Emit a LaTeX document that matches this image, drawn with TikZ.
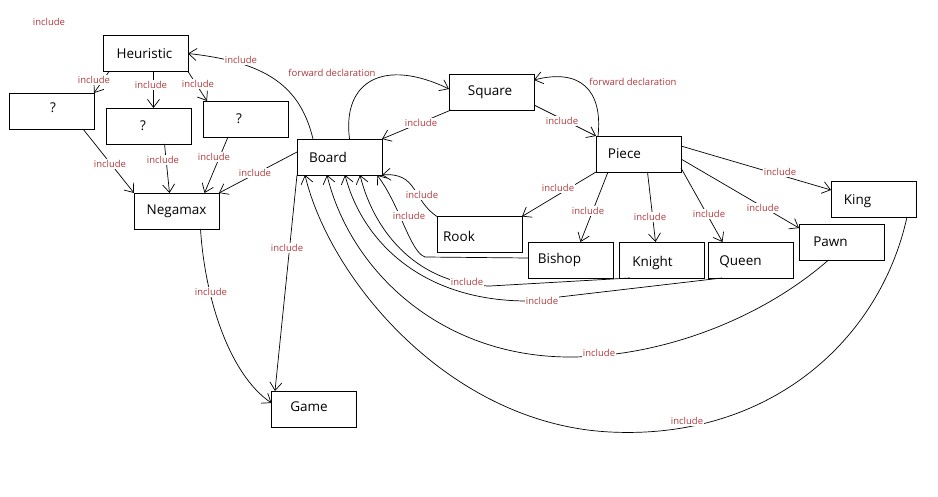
\documentclass[tikz,border=0pt]{standalone}
\usepackage{fontspec}
\setmainfont{Open Sans}
\usetikzlibrary{arrows.meta}

\definecolor{IncludeRed}{HTML}{B23A3E}
\tikzstyle{class-box}=[draw, line width=0.7pt, minimum width=85pt, minimum height=36pt, inner sep=0pt, outer sep=0pt]
\tikzstyle{class-name}=[font=\fontsize{13.5}{15}\selectfont]
\tikzstyle{include-arrow}=[line width=0.7pt, -{Straight Barb[length=8pt,width=12pt]}]
\tikzstyle{include-label}=[fill=white, inner sep=1pt, text=IncludeRed, font=\fontsize{9.5}{11}\selectfont]

\begin{document}
\begin{tikzpicture}[x=1pt, y=-1pt]
      \useasboundingbox (0,0) rectangle (938,497);

      % classes
      \node (class-heuristic) at (145.5, 53.5) [class-box, label={[class-name, xshift=-1pt]center:Heuristic}] {};
      \node (class-qleft)     at ( 51.5,111)   [class-box, label={[class-name, xshift=1.5pt, yshift=3pt]center:?}] {};
      \node (class-qmid)      at (148.5,126)   [class-box, label={[class-name, xshift=-5.5pt]center:?}] {};
      \node (class-qright)    at (245.5,119)   [class-box, label={[class-name, xshift=-6.5pt]center:?}] {};
      \node (class-negamax)   at (176.5,211)   [class-box, label={[class-name]center:Negamax}] {};
      \node (class-board)     at (339.5,157)   [class-box, label={[class-name, xshift=-11.5pt]center:Board}] {};
      \node (class-square)    at (491.5, 92)   [class-box, label={[class-name, xshift=-1.5pt]center:Square}] {};
      \node (class-piece)     at (638.5,154)   [class-box, label={[class-name, xshift=-14pt]center:Piece}] {};
      \node (class-rook)      at (479.5,234.5) [class-box, label={[class-name, xshift=-20.5pt, yshift=-2pt]center:Rook}] {};
      \node (class-bishop)    at (570.5,260)   [class-box, label={[class-name, xshift=-11pt]center:Bishop}] {};
      \node (class-knight)    at (661.5,260)   [class-box, label={[class-name, xshift=-9pt, yshift=-3pt]center:Knight}] {};
      \node (class-queen)     at (750.5,260)   [class-box, label={[class-name, xshift=-10pt, yshift=-2pt]center:Queen}] {};
      \node (class-pawn)      at (841.5,242)   [class-box, label={[class-name, xshift=-11pt]center:Pawn}] {};
      \node (class-king)      at (873.5,199)   [class-box, label={[class-name, xshift=-16pt, yshift=-2pt]center:King}] {};
      \node (class-game)      at (314,  409)   [class-box, label={[class-name, xshift=-5pt, yshift=2pt]center:Game}] {};

      % heuristic side
      \draw[include-arrow] ([xshift=6pt]class-heuristic.south west) -- (class-qleft.north east);
      \draw[include-arrow] ([xshift=8pt]class-heuristic.south) -- ([xshift=5pt]class-qmid.north);
      \draw[include-arrow] (class-heuristic.south east) -- ([xshift=4pt]class-qright.north west);
      \draw[include-arrow] ([xshift=-11pt]class-qleft.south east) -- (class-negamax.north west);
      \draw[include-arrow] ([xshift=16pt]class-qmid.south) -- ([xshift=-7pt]class-negamax.north);
      \draw[include-arrow] ([xshift=-17.5pt]class-qright.south) -- ([xshift=28pt]class-negamax.north);
      \draw[include-arrow] ([yshift=5pt]class-board.west) -- (class-negamax.north east);
      \draw[include-arrow] ([xshift=16pt]class-board.north west) .. controls (300,85) and (265,62) .. (class-heuristic.east);
      \draw[include-arrow] ([xshift=24pt]class-negamax.south) .. controls (205,300) and (230,375) .. ([yshift=6pt]class-game.west);
      \draw[include-arrow] (class-board.south west) -- ([xshift=-39pt]class-game.north);

      % board, square, piece
      \draw[include-arrow] ([xshift=10pt]class-board.north) .. controls (342,80) and (385,58) .. ([yshift=3pt]class-square.west);
      \draw[include-arrow] ([xshift=2pt]class-square.south west) -- (class-board.north east);
      \draw[include-arrow] ([yshift=-13pt]class-square.east) -- (class-piece.north west);
      \draw[include-arrow] ([xshift=2pt]class-piece.north west) .. controls (603,90) and (580,68) .. ([yshift=12pt]class-square.east);

      % piece to the pieces
      \draw[include-arrow] (class-piece.south west) -- (class-rook.north east);
      \draw[include-arrow] ([xshift=12pt]class-piece.south west) -- ([xshift=10pt]class-bishop.north);
      \draw[include-arrow] ([xshift=9pt]class-piece.south) -- ([xshift=-6pt]class-knight.north);
      \draw[include-arrow] ([yshift=-14pt]class-piece.east) -- ([xshift=-28pt]class-queen.north);
      \draw[include-arrow] ([yshift=-5pt]class-piece.east) -- ([yshift=-4pt]class-pawn.north west);
      \draw[include-arrow] ([yshift=8pt]class-piece.east) -- ([yshift=-9pt]class-king.north west);

      % pieces back to board
      \draw[include-arrow] (class-rook.north west) .. controls (412,200) and (418,172) .. (class-board.south east);
      \draw[include-arrow] ([yshift=2pt]class-bishop.west) -- (425,257) .. controls (410,252) and (400,205) .. ([xshift=-5pt]class-board.south east);
      \draw[include-arrow] ([xshift=11pt]class-knight.south west) -- (490,286) .. controls (420,285) and (375,235) .. ([xshift=-22pt]class-board.south east);
      \draw[include-arrow] ([xshift=14pt]class-queen.south west) -- (525,301) .. controls (420,300) and (362,240) .. ([xshift=5.5pt]class-board.south);
      \draw[include-arrow] ([xshift=-13pt]class-pawn.south) .. controls (760,320) and (660,357) .. (570,357)
            .. controls (440,357) and (350,270) .. ([xshift=-12.5pt]class-board.south);
      \draw[include-arrow] ([xshift=-9pt]class-king.south east) .. controls (880,340) and (770,440) .. (610,432)
            .. controls (450,424) and (330,280) .. ([xshift=8pt]class-board.south west);

      % labels
      \foreach \x/\y [count=\i] in {49/22, 94/80, 151/85, 198/84, 241/60, 110/164, 163/160, 214/157, 255/173,
            287/248, 211/292, 421/123, 562/121, 558/188, 588/211, 650/217, 709/214, 763/208, 780/172,
            422/195, 409/216, 467/282, 542/301, 599/353, 687/421}
            \node (label-include-\i) at (\x,\y) [include-label] {include};
      \node (label-forward-board) at (332,73) [include-label] {forward declaration};
      \node (label-forward-piece) at (633,82) [include-label] {forward declaration};
\end{tikzpicture}
\end{document}
